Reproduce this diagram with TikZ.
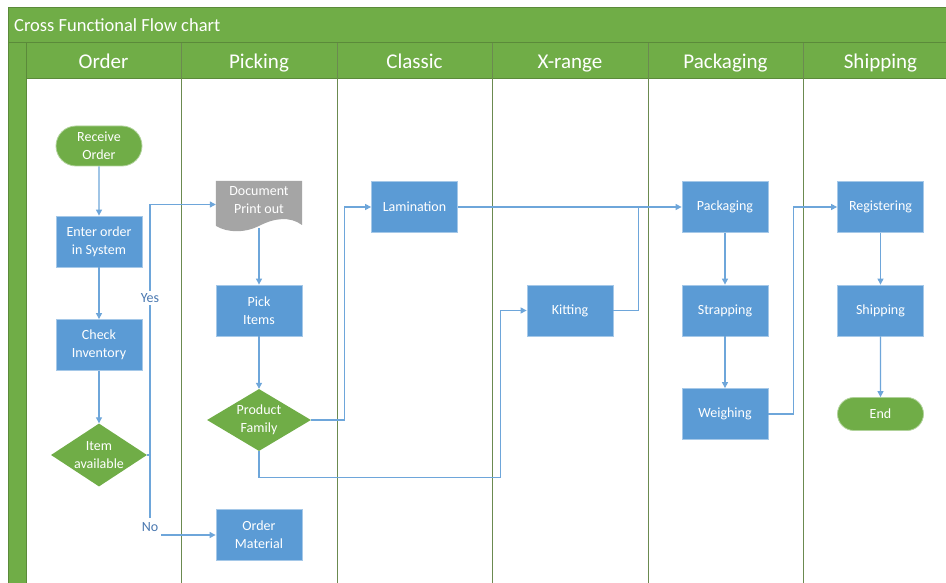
\documentclass[tikz,border=0pt]{standalone}
\usepackage{fontspec}
\setmainfont{Carlito}
\usetikzlibrary{arrows.meta,shapes.geometric,shapes.misc,calc}
\definecolor{ogreen}{HTML}{70AD47}
\definecolor{dgreen}{HTML}{5B8A3A}
\definecolor{laneline}{HTML}{6B8A50}
\definecolor{oblue}{HTML}{5B9BD5}
\definecolor{cblue}{HTML}{6EA6DA}
\definecolor{ogray}{HTML}{A5A5A5}
\definecolor{lbl}{HTML}{4A78B0}
\begin{document}
\begin{tikzpicture}[x=1pt,y=-1pt,
  every node/.style={font=\fontsize{14}{17.7}\selectfont},
  proc/.style={rectangle, fill=oblue, draw=oblue!55!white, line width=0.8pt, text=white,
    minimum width=86pt, minimum height=51pt, inner sep=0pt, align=center},
  term/.style={rounded rectangle, fill=ogreen, draw=ogreen!55!white, line width=0.8pt, text=white,
    minimum width=86pt, inner sep=0pt, align=center},
  dec/.style={diamond, aspect=1.55, fill=ogreen, text=white, inner sep=-8pt, align=center},
  conn/.style={draw=cblue, line width=1.1pt, -{Triangle[length=6pt,width=6pt]}},
  wire/.style={draw=cblue, line width=1.1pt},
  lab/.style={fill=white, text=lbl, inner sep=2.5pt, font=\fontsize{14}{16}\selectfont},
  lanehead/.style={text=white, anchor=base, inner sep=0pt, font=\fontsize{21}{24}\selectfont},
  lane/.style={draw=laneline, line width=1pt}
]
\useasboundingbox (0,0) rectangle (946,583);
% frame
\fill[white] (0,0) rectangle (946,583);
\path[fill=ogreen, draw=dgreen, line width=1pt] (8,8) rectangle (960,43);
\path[fill=ogreen, draw=dgreen, line width=1pt] (8,43) rectangle (26,590);
\path[fill=ogreen, draw=dgreen, line width=1pt] (26,43) rectangle (960,79);
\node[anchor=base west, text=white, font=\fontsize{18.5}{22}\selectfont, inner sep=0pt] (title) at (14,31.5) {Cross Functional Flow chart};
\foreach \x in {181,337,492,648,803} {
  \draw[lane] (\x,43) -- (\x,590);
}
\node[lanehead] (h1) at (103.5,68.5) {Order};
\node[lanehead] (h2) at (259,68.5) {Picking};
\node[lanehead] (h3) at (414.5,68.5) {Classic};
\node[lanehead] (h4) at (570,68.5) {X-range};
\node[lanehead] (h5) at (725.5,68.5) {Packaging};
\node[lanehead] (h6) at (880.5,68.5) {Shipping};

% nodes
\node[term, minimum height=40pt] (recv) at (99,146) {Receive\\Order};
\node[proc] (enter) at (99,241.5) {Enter order\\in System};
\node[proc] (check) at (99,345) {Check\\Inventory};
\node[dec, minimum width=96pt, minimum height=63pt] (item) at (99,455) {Item\\available};

\node[minimum width=86pt, minimum height=47pt, inner sep=0pt] (doc) at (259,204.5) {};
\fill[ogray] (doc.north west) -- (doc.north east) -- (302,225)
  .. controls (290,216) and (274,218) .. (259,226)
  .. controls (245,233) and (228,233) .. (216,226) -- cycle;
\node[text=white, align=center, inner sep=0pt] (doctext) at (259,200) {Document\\Print out};
\node[proc] (pick) at (259,310.5) {Pick\\Items};
\node[dec, minimum width=104pt, minimum height=62pt] (pf) at (259,420) {Product\\Family};
\node[proc] (omat) at (259,535) {Order\\Material};

\node[proc] (lam) at (414.5,207) {Lamination};
\node[proc] (kit) at (570,310.5) {Kitting};

\node[proc] (pack) at (725,207) {Packaging};
\node[proc] (strap) at (725,310.5) {Strapping};
\node[proc] (weigh) at (725,414) {Weighing};

\node[proc] (reg) at (880.5,207) {Registering};
\node[proc] (ship) at (880.5,310.5) {Shipping};
\node[term, minimum height=33pt] (end) at (880.5,414) {End};

% connectors
\draw[conn] (recv) -- (enter);
\draw[conn] (enter) -- (check);
\draw[conn] (check) -- (item);
\coordinate (yx) at (150,455);
\draw[wire] (item.east) -- (yx);
\draw[conn] (yx) |- (doc.west);
\draw[conn] (yx) |- (omat.west);
\node[lab] (yes) at (150,298) {Yes};
\node[lab, minimum height=18pt] (no) at (150,527) {No};

\draw[conn] (doc.south) -- (pick);
\draw[conn] (pick) -- (pf);
\draw[conn] (pf.east) -| ([xshift=-27pt]lam.west) -- (lam.west);
\draw[conn] (pf.south) -- ++(0,26) -| ([xshift=-26pt]kit.west) -- (kit.west);
\draw[conn] (lam.east) -- (pack.west);
\draw[wire] (kit.east) -| ([xshift=-43pt]pack.west);
\draw[conn] (pack) -- (strap);
\draw[conn] (strap) -- (weigh);
\draw[conn] (weigh.east) -| ([xshift=-44pt]reg.west) -- (reg.west);
\draw[conn] (reg) -- (ship);
\draw[conn] (ship) -- (end);
\end{tikzpicture}
\end{document}
